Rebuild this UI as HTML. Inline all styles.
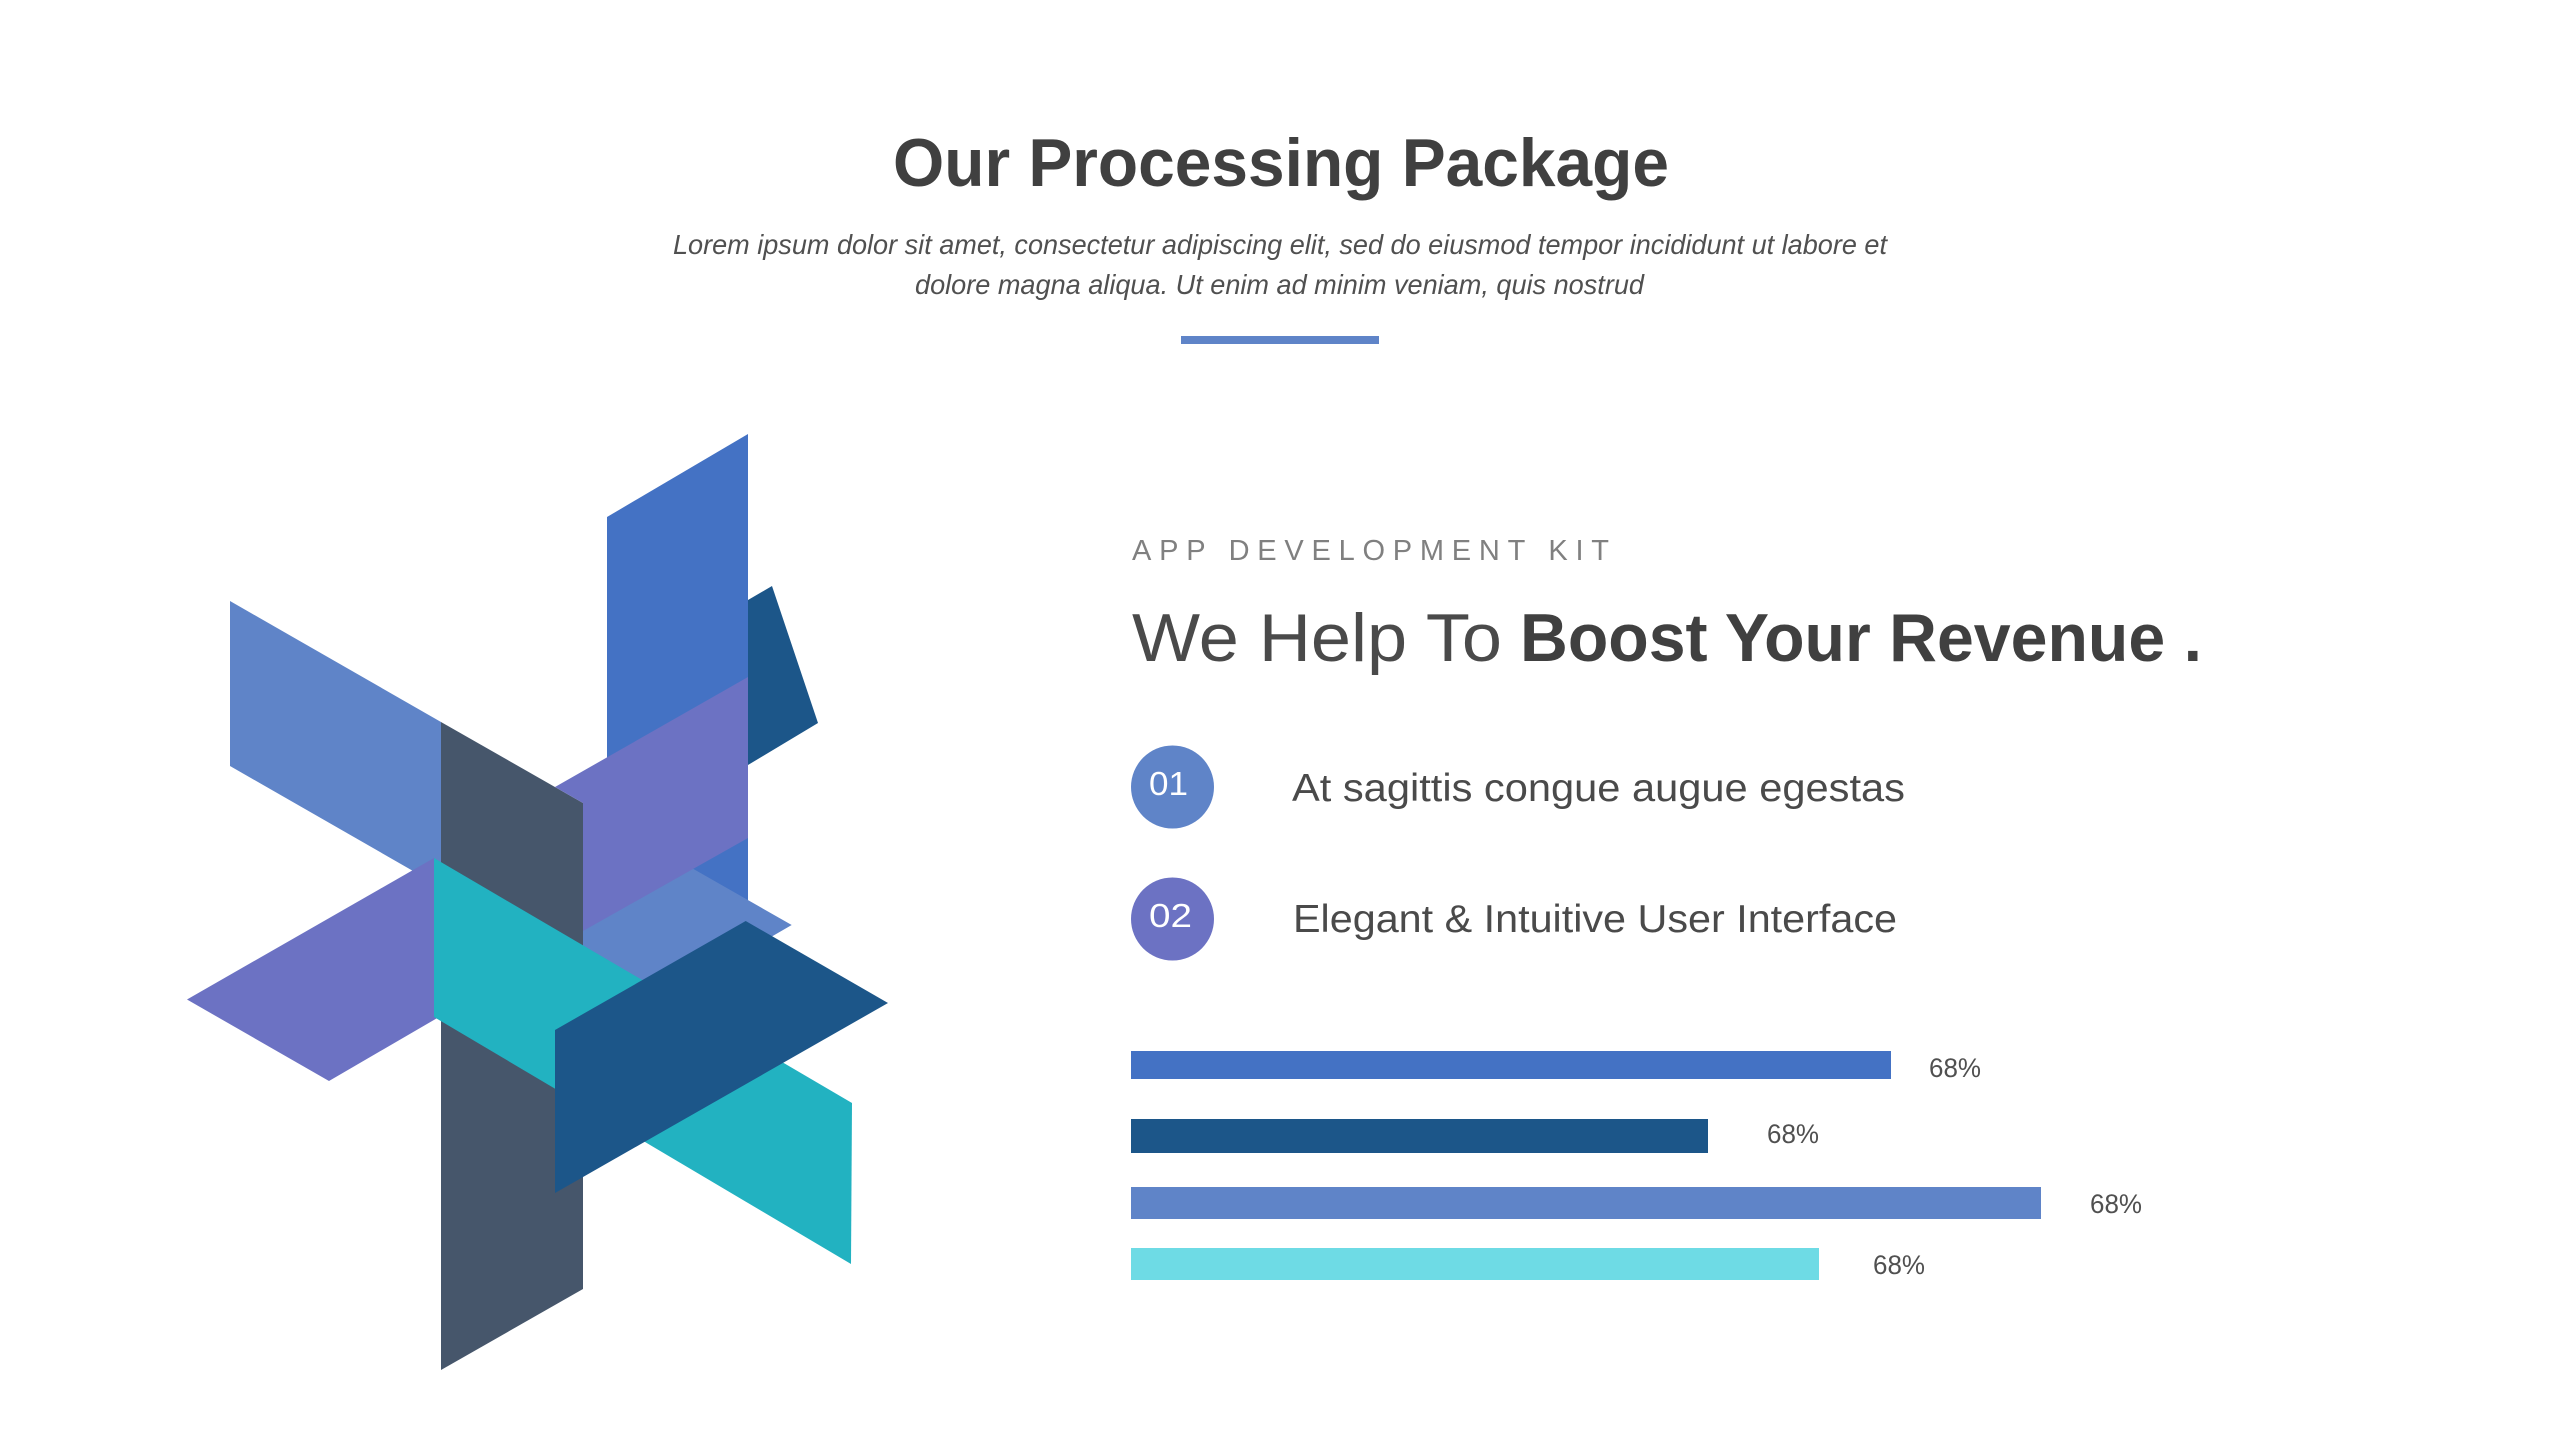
<!DOCTYPE html>
<html><head><meta charset="utf-8"><title>Our Processing Package</title>
<style>
html,body{margin:0;padding:0;background:#fff;width:2560px;height:1440px;overflow:hidden}
svg{display:block}
text{font-family:"Liberation Sans",sans-serif}
</style></head>
<body>
<svg width="2560" height="1440" viewBox="0 0 2560 1440" xmlns="http://www.w3.org/2000/svg">
<rect width="2560" height="1440" fill="#fff"/>
<!-- header -->
<text x="893" y="186" font-size="68" font-weight="700" fill="#404040" textLength="776" lengthAdjust="spacingAndGlyphs">Our Processing Package</text>
<text x="673" y="254" font-size="28" font-style="italic" fill="#505050" textLength="1214" lengthAdjust="spacingAndGlyphs">Lorem ipsum dolor sit amet, consectetur adipiscing elit, sed do eiusmod tempor incididunt ut labore et</text>
<text x="915" y="294" font-size="28" font-style="italic" fill="#505050" textLength="729" lengthAdjust="spacingAndGlyphs">dolore magna aliqua. Ut enim ad minim veniam, quis nostrud</text>
<rect x="1181" y="336" width="198" height="8" fill="#5F84C8"/>
<!-- isometric figure -->
<polygon points="607,517 748,434 748,900 607,900" fill="#4472C4"/>
<polygon points="748,600 772,586 818,723 748,765" fill="#1C5689"/>
<polygon points="230,601 441,722 441,887 230,766" fill="#5F84C8"/>
<polygon points="575,920 680,860 693.5,869 791.7,925 772.7,936 741,960 641,990 575,955" fill="#5F84C8"/>
<polygon points="441,722 583,803 583,1289 441,1370" fill="#46566B"/>
<polygon points="555,787 748,677 748,838 583,931 583,803" fill="#6C72C3"/>
<polygon points="187,999.5 434,858 439,1017 329,1081" fill="#6C72C3"/>
<polygon points="434,858 852,1103 851,1264 434,1017" fill="#22B2C1"/>
<polygon points="555,1030 745.7,921 888,1003 555,1193" fill="#1C5689"/>
<!-- right column -->
<text x="1132" y="560" font-size="29" fill="#808080" textLength="477" lengthAdjust="spacing">APP DEVELOPMENT KIT</text>
<text x="1132" y="661" font-size="68" fill="#4a4a4a" textLength="370" lengthAdjust="spacingAndGlyphs">We Help To</text>
<text x="1520" y="661" font-size="68" font-weight="700" fill="#404040" textLength="682" lengthAdjust="spacingAndGlyphs">Boost Your Revenue .</text>
<circle cx="1172.5" cy="787" r="41.5" fill="#5F84C8"/>
<circle cx="1172.5" cy="919" r="41.5" fill="#6C72C3"/>
<text x="1149" y="795" font-size="33" fill="#fff" textLength="39" lengthAdjust="spacingAndGlyphs">01</text>
<text x="1149" y="927" font-size="33" fill="#fff" textLength="43" lengthAdjust="spacingAndGlyphs">02</text>
<text x="1292" y="801" font-size="39" fill="#4a4a4a" textLength="613" lengthAdjust="spacingAndGlyphs">At sagittis congue augue egestas</text>
<text x="1293" y="932" font-size="39" fill="#4a4a4a" textLength="604" lengthAdjust="spacingAndGlyphs">Elegant &amp; Intuitive User Interface</text>
<!-- bars -->
<rect x="1131" y="1051" width="760" height="28" fill="#4472C4"/>
<rect x="1131" y="1119" width="577" height="34" fill="#1C5689"/>
<rect x="1131" y="1187" width="910" height="32" fill="#5F84C8"/>
<rect x="1131" y="1248" width="688" height="32" fill="#6EDBE5"/>
<text x="1929" y="1077" font-size="27" fill="#505050" textLength="52" lengthAdjust="spacingAndGlyphs">68%</text>
<text x="1767" y="1143" font-size="27" fill="#505050" textLength="52" lengthAdjust="spacingAndGlyphs">68%</text>
<text x="2090" y="1213" font-size="27" fill="#505050" textLength="52" lengthAdjust="spacingAndGlyphs">68%</text>
<text x="1873" y="1274" font-size="27" fill="#505050" textLength="52" lengthAdjust="spacingAndGlyphs">68%</text>
</svg>
</body></html>
